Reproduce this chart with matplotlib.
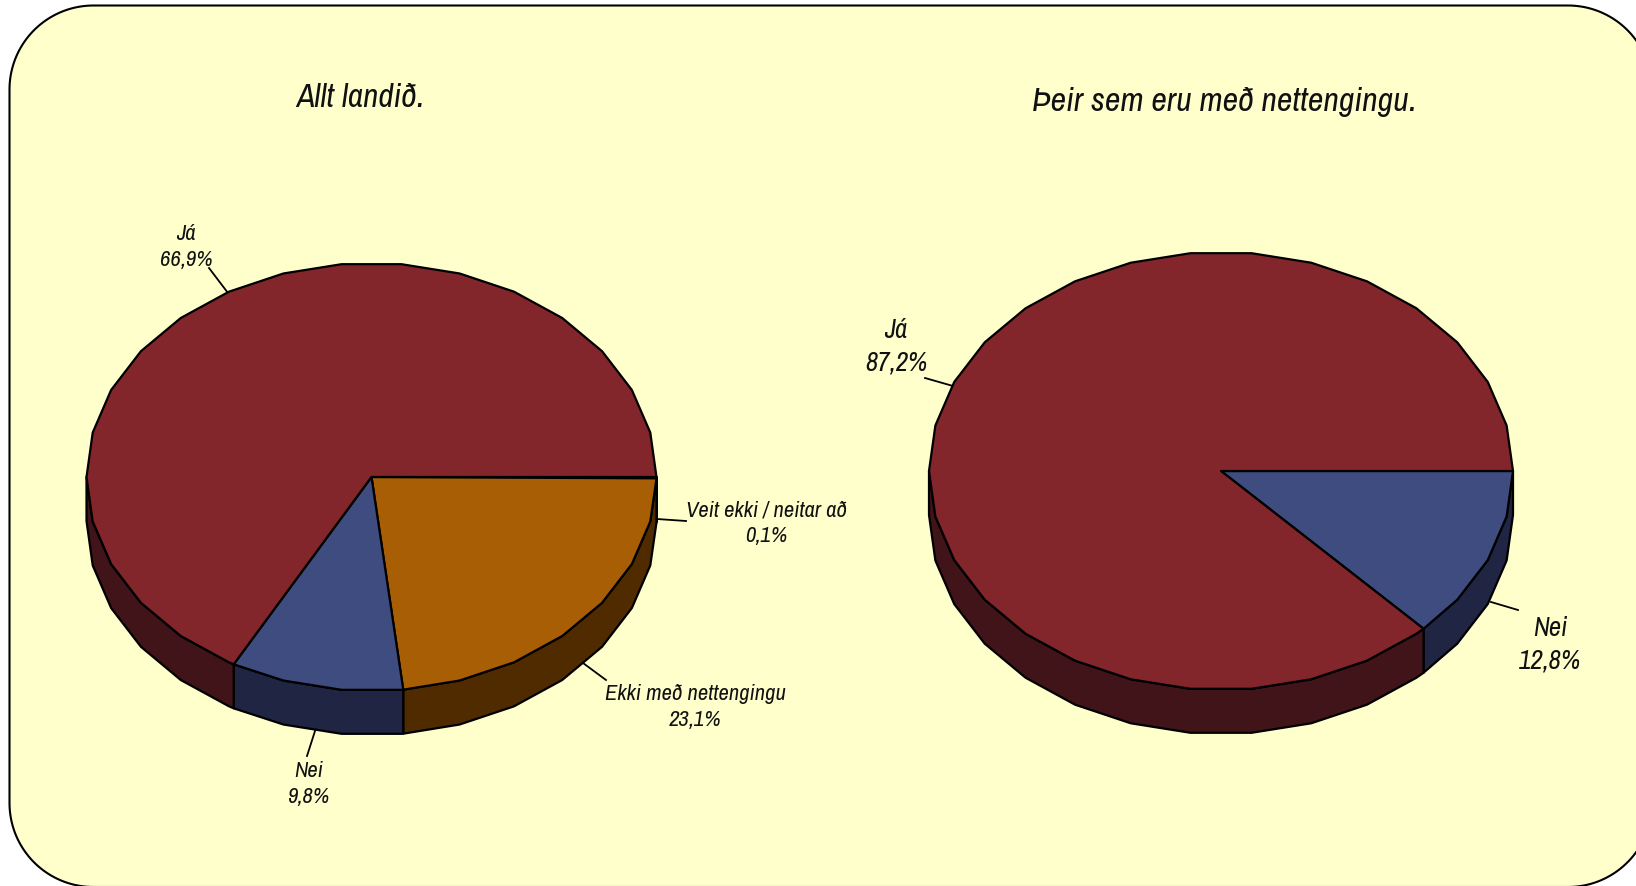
#! /usr/bin/python3
import numpy as np
import matplotlib
matplotlib.use("Agg")
import matplotlib.pyplot as plt
from matplotlib import font_manager
from matplotlib.patches import Polygon

# want something narrow, the original is a condensed italic
installed = sorted(set(f.name for f in font_manager.fontManager.ttflist))
narrow = [n for n in installed if "Narrow" in n or "Condensed" in n]
plt.rcParams['font.family'] = narrow + ['Lato', 'Liberation Sans', 'DejaVu Sans']

# slices go clockwise from three o'clock
left_title = "Allt landið."
left_names = ["Veit ekki / neitar að", "Ekki með nettengingu", "Nei", "Já"]
left_values = [0.1, 23.1, 9.8, 66.9]
right_title = "Þeir sem eru með nettengingu."
right_names = ["Nei", "Já"]
right_values = [12.8, 87.2]

TOP = {"Já": "#82262C", "Nei": "#3F4C80", "Ekki með nettengingu": "#A85E05",
       "Veit ekki / neitar að": "#3A2000"}
SIDE = {"Já": "#401418", "Nei": "#1F2542", "Ekki með nettengingu": "#512B00",
        "Veit ekki / neitar að": "#2A1800"}
LINE = 1.6
kStep = 12.0


def ArcAngles(t0, t1):
  # clockwise from t0 to t1 (t1 < t0), faceted like the original
  grid = np.arange(-720.0, 720.0, kStep)
  inner = grid[(grid < t0) & (grid > t1)][::-1]
  return np.concatenate([[t0], inner, [t1]])


def ArcPoints(cx, cy, rx, ry, angles, drop=0):
  rad = np.radians(angles)
  return np.column_stack([cx + rx*np.cos(rad), cy - ry*np.sin(rad) + drop])


def DrawPie(ax, cx, cy, rx, ry, depth, names, values):
  total = sum(values)
  ends = -np.cumsum([0] + values) / total * 360.0
  # side wall first, only the front half shows
  for i, name in enumerate(names):
    t0 = max(ends[i], -180.0)
    t1 = max(ends[i+1], -180.0)
    if t0 <= t1:
      continue
    angles = ArcAngles(t0, t1)
    upper = ArcPoints(cx, cy, rx, ry, angles)
    lower = ArcPoints(cx, cy, rx, ry, angles[::-1], depth)
    ax.add_patch(Polygon(np.vstack([upper, lower]), closed=True, facecolor=SIDE[name],
                         edgecolor="black", linewidth=LINE, joinstyle="round", zorder=2))
  for i, name in enumerate(names):
    arc = ArcPoints(cx, cy, rx, ry, ArcAngles(ends[i], ends[i+1]))
    ax.add_patch(Polygon(np.vstack([[cx, cy], arc]), closed=True, facecolor=TOP[name],
                         edgecolor="black", linewidth=LINE, joinstyle="round", zorder=3))


def RoundBox(x0, y0, x1, y1, r):
  t = np.radians(np.linspace(0, 90, 40))
  c, s = r*np.cos(t), r*np.sin(t)
  return np.vstack([np.column_stack([x1 - r + c, y0 + r - s]),
                    np.column_stack([x0 + r - s, y0 + r - c]),
                    np.column_stack([x0 + r - c, y1 - r + s]),
                    np.column_stack([x1 - r + s, y1 - r + c])])


def Label(ax, x, y, name, value, size, leader, gap=1.32):
  ax.plot([leader[0], leader[2]], [leader[1], leader[3]], color="black", lw=1.3, zorder=1)
  text = "%s\n%s%%" % (name, ("%.1f" % value).replace(".", ","))
  ax.text(x, y, text, ha="center", va="center", style="italic", fontsize=size,
          color="#111111", linespacing=gap)


fig = plt.figure(figsize=(16.36, 8.87), dpi=100, facecolor="white")
ax = fig.add_axes([0, 0, 1, 1])
ax.set_xlim(0, 1636)
ax.set_ylim(887, 0)
ax.axis("off")

ax.add_patch(Polygon(RoundBox(9.5, 6.5, 1652, 888, 84), closed=True, facecolor="#FFFFCC",
                     edgecolor="black", linewidth=1.5, zorder=0))

DrawPie(ax, 371.5, 478, 285, 214, 44, left_names, left_values)
DrawPie(ax, 1221, 472, 292, 219, 44, right_names, right_values)

ax.text(360, 98, left_title, ha="center", va="center", style="italic", fontsize=24, color="#111111")
ax.text(1224, 102, right_title, ha="center", va="center", style="italic", fontsize=24.5, color="#111111")

small = 16.3
big = 19.3
Label(ax, 766, 523, left_names[0], left_values[0], small, (657, 520, 686, 522))
Label(ax, 695, 707, left_names[1], left_values[1], small, (583, 664, 606, 681))
Label(ax, 309, 784, left_names[2], left_values[2], small, (315, 732, 307, 757))
Label(ax, 186, 247, left_names[3], left_values[3], small, (209, 269, 228, 294))
Label(ax, 1550, 645, right_names[0], right_values[0], big, (1491, 603, 1518, 611), 1.4)
Label(ax, 896, 347, right_names[1], right_values[1], big, (925, 379, 953, 387), 1.4)

fig.savefig("out.png", dpi=100, facecolor="white")
